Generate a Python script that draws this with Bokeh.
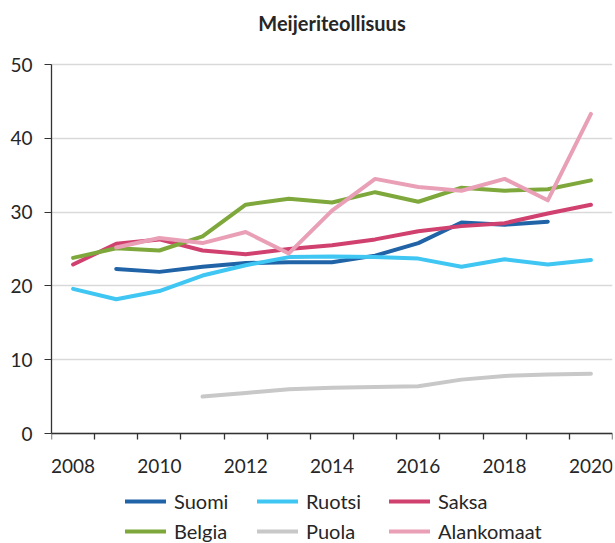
import math
from bokeh.plotting import figure
from bokeh.models import (Range1d, FixedTicker, Legend, LegendItem, Label)
from bokeh.embed import file_html
from bokeh.resources import INLINE

years = [2008, 2009, 2010, 2011, 2012, 2013, 2014, 2015, 2016, 2017, 2018, 2019, 2020]
suomi = [None, 22.3, 21.9, 22.6, 23.1, 23.2, 23.2, 24.1, 25.8, 28.6, 28.3, 28.7, None]
ruotsi = [19.6, 18.2, 19.3, 21.4, 22.8, 23.9, 24.0, 23.9, 23.7, 22.6, 23.6, 22.9, 23.5]
saksa = [22.9, 25.7, 26.3, 24.8, 24.3, 25.0, 25.5, 26.3, 27.4, 28.1, 28.5, 29.8, 31.0]
belgia = [23.8, 25.1, 24.8, 26.7, 31.0, 31.8, 31.3, 32.7, 31.4, 33.3, 32.9, 33.1, 34.3]
puola = [None, None, None, 5.0, 5.5, 6.0, 6.2, 6.3, 6.4, 7.3, 7.8, 8.0, 8.1]
alankomaat = [None, 25.2, 26.5, 25.8, 27.3, 24.4, 30.2, 34.5, 33.4, 32.9, 34.5, 31.6, 43.3]

series_names = ["Suomi", "Ruotsi", "Saksa", "Belgia", "Puola", "Alankomaat"]
series_values = [suomi, ruotsi, saksa, belgia, puola, alankomaat]
series_colors = ["#2063a6", "#3fc6f2", "#d0416f", "#7ea83b", "#c8c8c8", "#e9a0b6"]

title_text = "Meijeriteollisuus"
y_ticks = [0, 10, 20, 30, 40, 50]
x_label_years = [2008, 2010, 2012, 2014, 2016, 2018, 2020]

FONT = "Lato"
TXT = "#262626"

# the frame covers the whole canvas right of the value axis, so that the
# title and legend can sit inside it; value axis 0..50, category axis at 0
PX_PER_UNIT = 369 / 50.0
y_min = -110 / PX_PER_UNIT
y_max = 50 + 64 / PX_PER_UNIT
x_lo, x_hi = years[0] - 0.5, years[-1] + 0.5

p = figure(width=615, height=543, output_backend="svg", toolbar_location=None,
           x_range=Range1d(x_lo, x_hi), y_range=Range1d(y_min, y_max),
           min_border_left=51, min_border_right=3, min_border_top=0,
           min_border_bottom=0, outline_line_color=None, title=None)

renderers = []
for name, vals, col in zip(series_names, series_values, series_colors):
    ys = [math.nan if v is None else v for v in vals]
    r = p.line(years, ys, line_color=col, line_width=4,
               line_cap="round", line_join="round")
    renderers.append(r)

# title
p.add_layout(Label(x=(x_lo + x_hi) / 2, y=50 + 41.4 / PX_PER_UNIT, text=title_text,
                   text_align="center", text_baseline="alphabetic",
                   text_font=FONT, text_font_size="20px",
                   text_font_style="bold", text_color=TXT))

# grid
p.xgrid.visible = False
p.ygrid.grid_line_color = "#d9d9d9"
p.ygrid.grid_line_width = 1.5
p.ygrid.ticker = FixedTicker(ticks=y_ticks)

# value axis
p.yaxis.ticker = FixedTicker(ticks=y_ticks)
p.yaxis.bounds = (0, 50)
p.yaxis.axis_line_color = "#333333"
p.yaxis.axis_line_width = 1.3
p.yaxis.major_tick_line_color = "#333333"
p.yaxis.major_tick_out = 7
p.yaxis.major_tick_in = 0
p.yaxis.minor_tick_line_color = None
p.yaxis.major_label_text_font = FONT
p.yaxis.major_label_text_font_size = "19px"
p.yaxis.major_label_text_color = TXT
p.yaxis.major_label_standoff = 12

# category axis
half_years = [y - 0.5 for y in years] + [years[-1] + 0.5]
p.xaxis.fixed_location = 0
p.xaxis.ticker = FixedTicker(ticks=x_label_years, minor_ticks=half_years)
p.xaxis.axis_line_color = "#333333"
p.xaxis.axis_line_width = 1.3
p.xaxis.major_tick_out = 0
p.xaxis.major_tick_in = 0
p.xaxis.minor_tick_out = 6
p.xaxis.minor_tick_in = 0
p.xaxis.minor_tick_line_color = "#333333"
p.xaxis.minor_tick_line_width = 1.3
p.xaxis.major_label_text_font = FONT
p.xaxis.major_label_text_font_size = "19px"
p.xaxis.major_label_text_color = TXT
p.xaxis.major_label_standoff = 19

items = [LegendItem(label=n, renderers=[r]) for n, r in zip(series_names, renderers)]
legend = Legend(items=items, orientation="horizontal", ncols=3,
                location=(74, 0), label_text_font=FONT,
                label_text_font_size="20px", label_text_color=TXT,
                glyph_width=41, glyph_height=20, label_height=20,
                label_width=77, label_standoff=8, spacing=6, padding=0,
                margin=0, border_line_color=None, background_fill_alpha=0)
p.add_layout(legend, "center")

open("out.html", "w").write(file_html(p, INLINE))
